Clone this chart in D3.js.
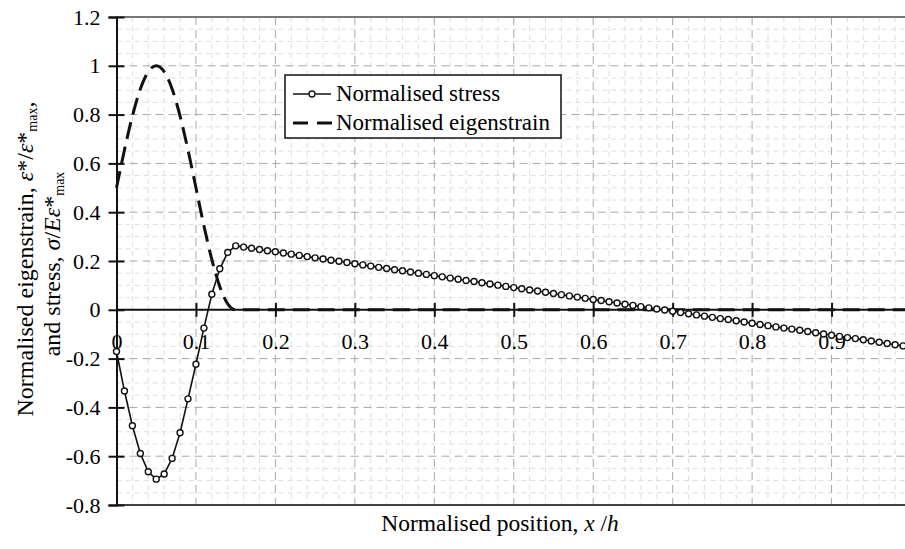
<!doctype html>
<html lang="en">
<head>
<meta charset="UTF-8">
<title>Normalised stress and eigenstrain</title>
<style>
  body { margin: 0; background: #fff; }
  svg text { font-family: "Liberation Serif", "DejaVu Serif", serif; }
</style>
</head>
<body>
<div class="container"></div>

<script src="https://d3js.org/d3.v7.min.js"></script>
<script>
  const SVG_WIDTH = 905;
  const SVG_HEIGHT = 549;
  const FONT = '"Liberation Serif", "DejaVu Serif", serif';

  // sample positions x/h (0.01 steps)
  const positions = [
    0.00, 0.01, 0.02, 0.03, 0.04, 0.05, 0.06, 0.07, 0.08, 0.09,
    0.10, 0.11, 0.12, 0.13, 0.14, 0.15, 0.16, 0.17, 0.18, 0.19,
    0.20, 0.21, 0.22, 0.23, 0.24, 0.25, 0.26, 0.27, 0.28, 0.29,
    0.30, 0.31, 0.32, 0.33, 0.34, 0.35, 0.36, 0.37, 0.38, 0.39,
    0.40, 0.41, 0.42, 0.43, 0.44, 0.45, 0.46, 0.47, 0.48, 0.49,
    0.50, 0.51, 0.52, 0.53, 0.54, 0.55, 0.56, 0.57, 0.58, 0.59,
    0.60, 0.61, 0.62, 0.63, 0.64, 0.65, 0.66, 0.67, 0.68, 0.69,
    0.70, 0.71, 0.72, 0.73, 0.74, 0.75, 0.76, 0.77, 0.78, 0.79,
    0.80, 0.81, 0.82, 0.83, 0.84, 0.85, 0.86, 0.87, 0.88, 0.89,
    0.90, 0.91, 0.92, 0.93, 0.94, 0.95, 0.96, 0.97, 0.98, 0.99,
    1.00
  ];

  const stress = [
    -0.171, -0.333, -0.475, -0.589, -0.664, -0.694, -0.673, -0.609, -0.504, -0.365,
    -0.223, -0.075, 0.064, 0.168, 0.235, 0.262, 0.257, 0.252, 0.247, 0.242,
    0.238, 0.233, 0.228, 0.223, 0.218, 0.213, 0.208, 0.203, 0.199, 0.194,
    0.189, 0.184, 0.179, 0.174, 0.169, 0.164, 0.160, 0.155, 0.150, 0.145,
    0.140, 0.135, 0.130, 0.125, 0.120, 0.116, 0.111, 0.106, 0.101, 0.096,
    0.091, 0.086, 0.081, 0.077, 0.072, 0.067, 0.062, 0.057, 0.052, 0.047,
    0.042, 0.038, 0.033, 0.028, 0.023, 0.018, 0.013, 0.008, 0.003, -0.001,
    -0.006, -0.011, -0.016, -0.021, -0.026, -0.031, -0.036, -0.040, -0.045, -0.050,
    -0.055, -0.060, -0.065, -0.070, -0.075, -0.079, -0.084, -0.089, -0.094, -0.099,
    -0.104, -0.109, -0.114, -0.118, -0.123, -0.128, -0.133, -0.138, -0.143, -0.148,
    -0.153
  ];

  const eigenstrain = [
    0.500, 0.655, 0.794, 0.905, 0.976, 1.000, 0.976, 0.905, 0.794, 0.655,
    0.500, 0.345, 0.206, 0.095, 0.024, 0.000, 0, 0, 0, 0,
    0, 0, 0, 0, 0, 0, 0, 0, 0, 0,
    0, 0, 0, 0, 0, 0, 0, 0, 0, 0,
    0, 0, 0, 0, 0, 0, 0, 0, 0, 0,
    0, 0, 0, 0, 0, 0, 0, 0, 0, 0,
    0, 0, 0, 0, 0, 0, 0, 0, 0, 0,
    0, 0, 0, 0, 0, 0, 0, 0, 0, 0,
    0, 0, 0, 0, 0, 0, 0, 0, 0, 0,
    0, 0, 0, 0, 0, 0, 0, 0, 0, 0,
    0
  ];

  // x = 1 lies just outside the picture, so its label is not shown
  const xTicks = [0, 0.1, 0.2, 0.3, 0.4, 0.5, 0.6, 0.7, 0.8, 0.9];
  const xTickLabels = ['0', '0.1', '0.2', '0.3', '0.4', '0.5', '0.6', '0.7', '0.8', '0.9'];
  const yTicks = [-0.8, -0.6, -0.4, -0.2, 0, 0.2, 0.4, 0.6, 0.8, 1.0, 1.2];
  const yTickLabels = ['-0.8', '-0.6', '-0.4', '-0.2', '0', '0.2', '0.4', '0.6', '0.8', '1', '1.2'];

  const svg = d3.select('.container')
    .append('svg')
    .attr('width', SVG_WIDTH)
    .attr('height', SVG_HEIGHT)
    .style('display', 'block');

  // plot area runs past the right edge of the picture
  const x = d3.scaleLinear().domain([0, 1]).range([116.5, 911]);
  const y = d3.scaleLinear().domain([-0.8, 1.2]).range([505, 17]);

  const [x0, x1] = x.range();
  const [yb, yt] = y.range();

  // minor grid
  const grid = svg.append('g');
  grid.selectAll('.vminor')
    .data(d3.range(0.02, 1.0, 0.02).filter(v => Math.abs(v * 10 - Math.round(v * 10)) > 1e-6))
    .enter().append('line')
    .attr('x1', d => x(d)).attr('x2', d => x(d))
    .attr('y1', yt).attr('y2', yb)
    .attr('stroke', '#dedede').attr('stroke-width', 1)
    .attr('stroke-dasharray', '5,4');
  grid.selectAll('.hminor')
    .data(d3.range(-0.75, 1.2, 0.05).filter(v => Math.abs(v * 5 - Math.round(v * 5)) > 1e-6))
    .enter().append('line')
    .attr('x1', x0).attr('x2', x1)
    .attr('y1', d => y(d)).attr('y2', d => y(d))
    .attr('stroke', '#dedede').attr('stroke-width', 1)
    .attr('stroke-dasharray', '5,4');

  // major grid
  grid.selectAll('.vmajor')
    .data(xTicks.filter(v => v > 0))
    .enter().append('line')
    .attr('x1', d => x(d)).attr('x2', d => x(d))
    .attr('y1', yt).attr('y2', yb)
    .attr('stroke', '#a8a8a8').attr('stroke-width', 1)
    .attr('stroke-dasharray', '8,5');
  grid.selectAll('.hmajor')
    .data(yTicks.filter(v => v !== 0 && v > -0.8 && v < 1.2))
    .enter().append('line')
    .attr('x1', x0).attr('x2', x1)
    .attr('y1', d => y(d)).attr('y2', d => y(d))
    .attr('stroke', '#a8a8a8').attr('stroke-width', 1)
    .attr('stroke-dasharray', '8,5');

  // top and bottom frame
  svg.append('line')
    .attr('x1', x0).attr('x2', x1).attr('y1', yt).attr('y2', yt)
    .attr('stroke', '#777').attr('stroke-width', 2);
  svg.append('line')
    .attr('x1', x0).attr('x2', x1).attr('y1', yb).attr('y2', yb)
    .attr('stroke', '#444').attr('stroke-width', 2);

  // y axis
  const yAxisGroup = svg.append('g')
    .attr('transform', `translate(${x0},0)`)
    .call(d3.axisLeft(y).tickValues(yTicks).tickSize(8)
      .tickFormat((d, i) => yTickLabels[i]));
  yAxisGroup.attr('font-family', FONT).attr('font-size', 22);
  yAxisGroup.select('.domain').attr('stroke', '#111').attr('stroke-width', 2);
  yAxisGroup.selectAll('.tick line').attr('x2', -8).attr('x1', 8)
    .attr('stroke', '#111').attr('stroke-width', 2);
  yAxisGroup.selectAll('.tick text')
    .attr('x', -16)
    .attr('fill', '#000');

  // x axis along the zero line
  const xAxisGroup = svg.append('g')
    .attr('transform', `translate(0,${y(0)})`)
    .call(d3.axisBottom(x).tickValues(xTicks).tickSize(8)
      .tickFormat((d, i) => xTickLabels[i]));
  xAxisGroup.attr('font-family', FONT).attr('font-size', 22);
  xAxisGroup.select('.domain').attr('stroke', '#111').attr('stroke-width', 2)
    .attr('d', `M${x0},0H${x1}`);
  xAxisGroup.selectAll('.tick line').attr('y1', -7).attr('y2', 7)
    .attr('stroke', '#111').attr('stroke-width', 2);
  xAxisGroup.selectAll('.tick text')
    .attr('y', 24)
    .attr('fill', '#000');

  // eigenstrain (dashed)
  const eigenLine = d3.line()
    .x((d, i) => x(positions[i]))
    .y(d => y(d))
    .curve(d3.curveMonotoneX);
  svg.append('path')
    .datum(eigenstrain)
    .attr('d', eigenLine)
    .attr('fill', 'none')
    .attr('stroke', '#111')
    .attr('stroke-width', 3)
    .attr('stroke-dasharray', '17,8');

  // stress with markers
  const stressLine = d3.line()
    .x((d, i) => x(positions[i]))
    .y(d => y(d));
  svg.append('path')
    .datum(stress)
    .attr('d', stressLine)
    .attr('fill', 'none')
    .attr('stroke', '#111')
    .attr('stroke-width', 1.6);
  svg.selectAll('.marker')
    .data(stress)
    .enter().append('circle')
    .attr('cx', (d, i) => x(positions[i]))
    .attr('cy', d => y(d))
    .attr('r', 3)
    .attr('fill', '#fff')
    .attr('stroke', '#111')
    .attr('stroke-width', 1.4);

  // legend
  const legend = svg.append('g').attr('font-family', FONT);
  legend.append('rect')
    .attr('x', 285).attr('y', 75).attr('width', 276).attr('height', 63)
    .attr('fill', '#fff').attr('stroke', '#111').attr('stroke-width', 1.5);
  legend.append('line')
    .attr('x1', 293).attr('x2', 331).attr('y1', 94).attr('y2', 94)
    .attr('stroke', '#111').attr('stroke-width', 1.6);
  legend.append('circle')
    .attr('cx', 312).attr('cy', 94).attr('r', 3)
    .attr('fill', '#fff').attr('stroke', '#111').attr('stroke-width', 1.3);
  legend.append('line')
    .attr('x1', 293).attr('x2', 333).attr('y1', 123).attr('y2', 123)
    .attr('stroke', '#111').attr('stroke-width', 3)
    .attr('stroke-dasharray', '15,9');
  legend.append('text')
    .attr('x', 336).attr('y', 101)
    .attr('fill', '#000').attr('font-size', 23)
    .text('Normalised stress');
  legend.append('text')
    .attr('x', 336).attr('y', 130)
    .attr('fill', '#000').attr('font-size', 23)
    .text('Normalised eigenstrain');

  // x label
  svg.append('text')
    .attr('x', 500).attr('y', 531)
    .attr('text-anchor', 'middle')
    .attr('font-family', FONT)
    .attr('font-size', 23.5)
    .attr('fill', '#000')
    .html('Normalised position, <tspan font-style="italic">x</tspan> /<tspan font-style="italic">h</tspan>');

  // y label, two lines
  const yl1 = svg.append('text')
    .attr('transform', 'translate(33,259) rotate(-90)')
    .attr('text-anchor', 'middle')
    .attr('font-family', FONT)
    .attr('font-size', 24)
    .attr('fill', '#000');
  yl1.append('tspan').text('Normalised eigenstrain, ');
  yl1.append('tspan').attr('font-style', 'italic').text('ε');
  yl1.append('tspan').text('*/');
  yl1.append('tspan').attr('font-style', 'italic').text('ε');
  yl1.append('tspan').text('*');
  yl1.append('tspan').attr('dy', 4).attr('font-size', 14).text('max');
  yl1.append('tspan').attr('dy', -4).text(',');

  const yl2 = svg.append('text')
    .attr('transform', 'translate(60,264) rotate(-90)')
    .attr('text-anchor', 'middle')
    .attr('font-family', FONT)
    .attr('font-size', 24)
    .attr('fill', '#000');
  yl2.append('tspan').text('and stress, ');
  yl2.append('tspan').attr('font-style', 'italic').text('σ');
  yl2.append('tspan').text('/');
  yl2.append('tspan').attr('font-style', 'italic').text('Eε');
  yl2.append('tspan').text('*');
  yl2.append('tspan').attr('dy', 4).attr('font-size', 14).text('max');
</script>
</body>
</html>
